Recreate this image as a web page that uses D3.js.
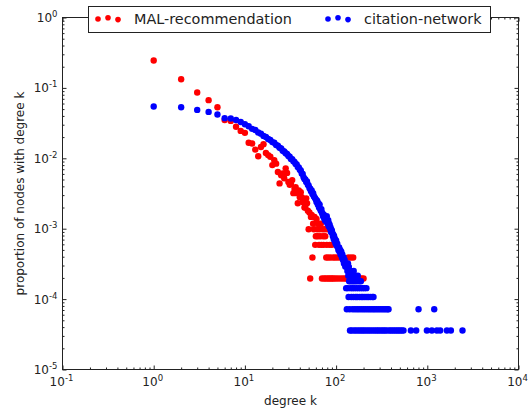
<!DOCTYPE html>
<html>
<head>
<meta charset="utf-8">
<script src="https://cdn.jsdelivr.net/npm/d3@7"></script>
<style>
  body { margin: 0; background: #fff; }
  text { font-family: "DejaVu Sans", sans-serif; fill: #222; }
</style>
</head>
<body>
<div id="chart"></div>
<script>
// degree k, proportion of nodes with degree k
const malData = [
  [1,0.245],[2,0.133],[3,0.086],[4,0.067],[5,0.053],[6,0.035],[7,0.034],[8,0.028],[9,0.0245],[10,0.023],
  [11,0.0166],[12,0.0162],[13,0.0133],[14,0.0107],[15,0.0145],[16,0.0158],[17,0.0119],[18,0.0111],[19,0.0105],[20,0.0080],
  [21,0.0094],[22,0.0084],[23,0.0064],[24,0.0044],[25,0.00575],[26,0.0061],[27,0.0052],[28,0.0072],[29,0.0062],[30,0.0046],
  [31,0.0042],[32,0.0044],[33,0.0049],[34,0.0032],[35,0.0037],[36,0.0039],[37,0.0032],[38,0.0023],[39,0.0035],[40,0.0028],
  [41,0.0033],[42,0.0028],[43,0.0024],[44,0.0025],[45,0.0020],[46,0.0020],[47,0.0027],[48,0.0023],[49,0.0018],[50,0.00098],
  [51,0.0017],[52,0.000196],[53,0.00147],[54,0.00157],[55,0.00039],[56,0.00118],[57,0.00098],[58,0.00147],[59,0.00059],[60,0.00078],
  [61,0.00137],[62,0.00098],[63,0.00078],[64,0.00118],[65,0.00059],[66,0.00098],[67,0.00078],[68,0.00118],[69,0.00059],[70,0.000196],
  [71,0.00098],[72,0.00078],[73,0.00059],[74,0.000196],[75,0.00098],[76,0.00078],[77,0.000196],[78,0.00039],[79,0.00059],[80,0.00098],
  [81,0.000196],[82,0.00039],[84,0.000196],[85,0.00059],[87,0.00039],[88,0.000196],[90,0.00059],[91,0.000196],[93,0.00039],[95,0.000196],
  [98,0.00039],[100,0.000196],[104,0.00039],[106,0.000196],[111,0.00039],[113,0.000196],[120,0.000196],[127,0.000196],[133,0.000196],[136,0.00039],
  [140,0.000196],[145,0.00039],[150,0.000196],[154,0.00039],[160,0.000196],[170,0.000196],[180,0.000196],[190,0.000196],[200,0.000196]
];

const citeData = [
  [1,0.0544],[2,0.053],[3,0.0487],[4,0.0456],[5,0.0419],[6,0.0372],[7,0.0367],[8,0.035],[9,0.0328],[10,0.0305],
  [11,0.0285],[12,0.0262],[13,0.0252],[14,0.0233],[15,0.0224],[16,0.0208],[17,0.0201],[18,0.0188],[19,0.0182],[20,0.0170],
  [21,0.0166],[22,0.0155],[23,0.0151],[24,0.0141],[25,0.0138],[26,0.0128],[27,0.0125],[28,0.0118],[29,0.0115],[30,0.0108],
  [31,0.0105],[32,0.0098],[33,0.0097],[34,0.0091],[35,0.0089],[36,0.0083],[37,0.0082],[38,0.0075],[39,0.0074],[40,0.0069],
  [41,0.0067],[42,0.0061],[43,0.0060],[44,0.0054],[45,0.0051],[46,0.0050],[47,0.0046],[48,0.0047],[49,0.0042],[50,0.0041],
  [51,0.0038],[52,0.0037],[53,0.0034],[54,0.0035],[55,0.0031],[56,0.0032],[57,0.0029],[58,0.0028],[59,0.0027],[60,0.0026],
  [61,0.0024],[62,0.0025],[63,0.0022],[64,0.0023],[65,0.0020],[66,0.0022],[67,0.0019],[68,0.0018],[69,0.0019],[70,0.0017],
  [71,0.0016],[72,0.0015],[73,0.0016],[74,0.0014],[75,0.0015],[76,0.0013],[77,0.0014],[78,0.0013],[79,0.0015],[80,0.0012],
  [81,0.00125],[82,0.00132],[83,0.00108],[84,0.00118],[85,0.00112],[86,0.00100],[87,0.00104],[88,0.00090],[89,0.00097],[90,0.00093],
  [91,0.00086],[92,0.00079],[93,0.00083],[94,0.00072],[95,0.00079],[96,0.00068],[97,0.00072],[98,0.00065],[99,0.00061],[100,0.00068],
  [102,0.00057],[103,0.00061],[105,0.00054],[106,0.00050],[108,0.00054],[109,0.00047],[111,0.00050],[112,0.00043],[114,0.00047],[116,0.00039],
  [117,0.00043],[119,0.00036],[121,0.00039],[122,0.00032],[124,0.00036],[126,0.00029],[128,0.00032],[129,0.000143],[130,0.000287],[131,0.0000717],
  [133,0.000251],[134,0.000143],[135,0.000322],[136,0.000215],[137,0.000107],[138,0.000287],[139,0.000179],[140,0.000251],[141,0.0000717],[142,0.0000358],
  [143,0.000215],[144,0.000143],[145,0.000251],[146,0.000179],[147,0.000107],[148,0.0000358],[150,0.000215],[151,0.000143],[152,0.0000717],[153,0.000179],
  [155,0.000107],[156,0.000251],[157,0.0000358],[158,0.000143],[160,0.000179],[161,0.0000717],[162,0.000215],[164,0.000107],[165,0.0000358],[167,0.000143],
  [168,0.000179],[170,0.0000717],[171,0.000107],[173,0.000215],[174,0.0000358],[176,0.000143],[178,0.000179],[179,0.0000717],[181,0.000107],[183,0.0000358],
  [185,0.000143],[187,0.000179],[189,0.0000717],[190,0.000107],[192,0.0000358],[195,0.000143],[197,0.000107],[199,0.0000717],[201,0.0000358],[204,0.000143],
  [207,0.000107],[209,0.0000717],[211,0.0000358],[215,0.000143],[218,0.000107],[220,0.0000717],[222,0.0000358],[227,0.000107],[231,0.0000717],[233,0.0000358],
  [238,0.000107],[242,0.0000717],[245,0.0000358],[250,0.000107],[254,0.0000717],[257,0.000107],[258,0.0000358],[265,0.0000717],[271,0.0000358],[278,0.0000717],
  [284,0.0000358],[291,0.0000717],[297,0.0000358],[305,0.0000717],[312,0.0000358],[320,0.0000717],[327,0.0000358],[335,0.0000717],[342,0.0000358],[350,0.0000717],
  [358,0.0000358],[366,0.0000717],[376,0.0000717],[380,0.0000358],[398,0.0000358],[417,0.0000358],[437,0.0000358],[458,0.0000358],[479,0.0000358],[501,0.0000358],
  [524,0.0000358],[548,0.0000358],[661,0.0000358],[755,0.0000358],[802,0.0000717],[990,0.0000358],[1122,0.0000358],[1191,0.0000717],[1274,0.0000358],[1384,0.0000358],
  [1640,0.0000358],[1814,0.0000358],[2432,0.0000358]
];

const seriesNames = ["MAL-recommendation", "citation-network"];
const seriesColors = ["#ff0000", "#0000ff"];
const xExponents = [-1, 0, 1, 2, 3, 4];
const yExponents = [-5, -4, -3, -2, -1, 0];

const width = 531, height = 410;
const margin = { top: 17.5, right: 12.5, bottom: 40.5, left: 62.5 };

const svg = d3.select("#chart").append("svg")
  .attr("width", width)
  .attr("height", height);

const x = d3.scaleLog()
  .domain([0.1, 10000])
  .range([margin.left, width - margin.right]);

const y = d3.scaleLog()
  .domain([1e-5, 1])
  .range([height - margin.bottom, margin.top]);

// minor ticks: 2..9 in every decade
const minorX = [], minorY = [];
xExponents.slice(0, -1).forEach(e => { for (let m = 2; m < 10; m++) minorX.push(m * Math.pow(10, e)); });
yExponents.slice(0, -1).forEach(e => { for (let m = 2; m < 10; m++) minorY.push(m * Math.pow(10, e)); });
const majorX = xExponents.map(e => Math.pow(10, e));
const majorY = yExponents.map(e => Math.pow(10, e));

// points: MAL first, citation network on top
[malData, citeData].forEach((data, i) => {
  svg.append("g").selectAll("circle")
    .data(data)
    .enter()
    .append("circle")
    .attr("cx", d => x(d[0]))
    .attr("cy", d => y(d[1]))
    .attr("r", 3.2)
    .attr("fill", seriesColors[i]);
});

const bottom = height - margin.bottom, right = width - margin.right;

function tickAxis(axis, transform, values, size) {
  svg.append("g")
    .attr("transform", transform)
    .call(axis.tickValues(values).tickSize(-size).tickSizeOuter(0).tickFormat(""))
    .call(g => g.select(".domain").remove())
    .call(g => g.selectAll(".tick line").attr("stroke", "#222"));
}

[[majorX, 4], [minorX, 2]].forEach(([vals, s]) => {
  tickAxis(d3.axisBottom(x), `translate(0,${bottom})`, vals, s);
  tickAxis(d3.axisTop(x), `translate(0,${margin.top})`, vals, s);
});
[[majorY, 4], [minorY, 2]].forEach(([vals, s]) => {
  tickAxis(d3.axisLeft(y), `translate(${margin.left},0)`, vals, s);
  tickAxis(d3.axisRight(y), `translate(${right},0)`, vals, s);
});

// frame
svg.append("rect")
  .attr("x", margin.left)
  .attr("y", margin.top)
  .attr("width", right - margin.left)
  .attr("height", bottom - margin.top)
  .attr("fill", "none")
  .attr("stroke", "#222");

// tick labels as 10^e
const xl = svg.append("g").selectAll("text")
  .data(xExponents)
  .enter()
  .append("text")
  .attr("x", e => x(Math.pow(10, e)) - 1)
  .attr("y", bottom + 16.5)
  .attr("font-size", 12)
  .style("text-anchor", "middle")
  .text("10");
xl.append("tspan").attr("dy", -5).attr("font-size", 8.5).text(e => e < 0 ? "-" + (-e) : e);

const yl = svg.append("g").selectAll("text")
  .data(yExponents)
  .enter()
  .append("text")
  .attr("x", margin.left - 5)
  .attr("y", e => y(Math.pow(10, e)) + 4.5)
  .attr("font-size", 12)
  .style("text-anchor", "end")
  .text("10");
yl.append("tspan").attr("dy", -5).attr("font-size", 8.5).text(e => e < 0 ? "-" + (-e) : e);

// axis titles
svg.append("text")
  .attr("x", (margin.left + right) / 2)
  .attr("y", height - 5)
  .attr("font-size", 12)
  .style("text-anchor", "middle")
  .text("degree k");

svg.append("text")
  .attr("transform", "rotate(-90)")
  .attr("x", -(margin.top + bottom) / 2)
  .attr("y", 24)
  .attr("font-size", 12)
  .style("text-anchor", "middle")
  .text("proportion of nodes with degree k");

// legend
const legend = svg.append("g");
legend.append("rect")
  .attr("x", 88.5).attr("y", 6.5)
  .attr("width", 402).attr("height", 26)
  .attr("fill", "#fff")
  .attr("stroke", "#222");

const legendX = [98, 328];
const markerDy = [1.3, 0, 1.9];
seriesNames.forEach((name, i) => {
  markerDy.forEach((dy, j) => {
    legend.append("circle")
      .attr("cx", legendX[i] + j * 10)
      .attr("cy", 17.7 + dy)
      .attr("r", 2.8)
      .attr("fill", seriesColors[i]);
  });
  legend.append("text")
    .attr("x", legendX[i] + 36)
    .attr("y", 24)
    .attr("font-size", 14.4)
    .text(name);
});
</script>
</body>
</html>
